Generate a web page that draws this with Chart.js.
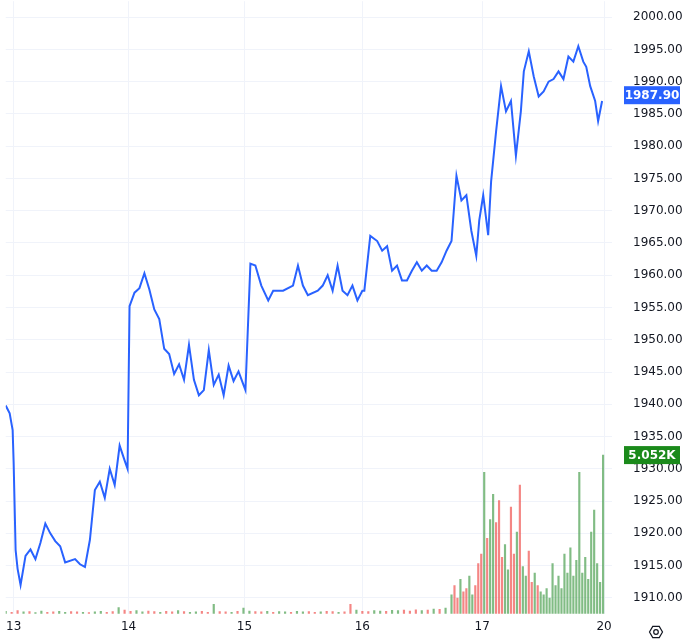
<!DOCTYPE html>
<html>
<head>
<meta charset="utf-8">
<script src="https://cdn.jsdelivr.net/npm/chart.js@4"></script>
<style>
  html, body { margin: 0; padding: 0; background: #fff; overflow: hidden; }
  #wrap { width: 685px; height: 669px; position: absolute; top: -27px; left: 0; }
</style>
</head>
<body>
<div id="wrap"><canvas id="ch"></canvas></div>
<script>
(function () {
  "use strict";

  // bar index (intraday), day labels
  var dayTicks = [8, 124, 241, 360, 481, 604];
  var dayLabels = ["13", "14", "15", "16", "17", "20"];
  var priceTicks = [1910, 1915, 1920, 1925, 1930, 1935, 1940, 1945, 1950, 1955, 1960, 1965, 1970, 1975, 1980, 1985, 1990, 1995, 2000];

  var priceIdx = [0, 4, 7, 8, 10, 12, 15, 20, 25, 30, 35, 40, 45, 50, 55, 60, 70, 75, 80, 85, 90, 95, 100, 105, 110, 115, 120, 123,
    125, 130, 135, 140, 145, 150, 155, 160, 165, 170, 175, 180, 185, 190, 195, 200, 205, 210, 215, 220, 225, 230, 235, 240,
    242, 247, 252, 258, 265, 270, 280, 290, 295, 300, 305, 315, 320, 325, 330, 335, 340, 345, 350, 355, 360,
    362, 368, 375, 380, 385, 390, 395, 400, 405, 410, 415, 420, 425, 430, 435, 440, 445, 450, 455, 460, 465, 470, 475, 478,
    482, 487, 490, 495, 500, 505, 510, 515, 520, 523, 528, 533, 538, 543, 548, 553, 558, 563, 568, 573, 578, 583, 586, 590, 595, 598, 602];
  var price = [1939.8, 1938.6, 1936.0, 1931.0, 1917.4, 1914.5, 1912.0, 1916.5, 1917.5, 1916.0, 1918.5, 1921.5, 1920.0, 1918.8, 1918.0, 1915.5, 1916.0, 1915.2, 1914.8, 1919.0, 1926.7, 1928.0, 1925.5, 1930.0, 1927.5, 1933.6, 1931.3, 1930.0,
    1955.2, 1957.3, 1958.0, 1960.3, 1957.8, 1954.7, 1953.2, 1948.6, 1947.8, 1944.7, 1946.2, 1943.8, 1949.2, 1943.8, 1941.4, 1942.2, 1948.4, 1943.0, 1944.6, 1941.4, 1946.0, 1943.6, 1945.1, 1943.0, 1942.2,
    1961.8, 1961.5, 1958.4, 1956.1, 1957.6, 1957.6, 1958.4, 1961.5, 1958.4, 1956.9, 1957.6, 1958.4, 1960.0, 1957.6, 1961.5, 1957.6, 1956.9, 1958.4, 1956.1, 1957.6, 1957.6,
    1966.1, 1965.3, 1963.8, 1964.5, 1960.7, 1961.5, 1959.2, 1959.2, 1960.7, 1962.0, 1960.7, 1961.5, 1960.7, 1960.7, 1962.0, 1963.8, 1965.3,
    1975.4, 1971.6, 1972.4, 1966.9, 1963.0, 1968.5, 1972.4,
    1966.2, 1974.6, 1982.3, 1989.3, 1985.4, 1987.0, 1978.5, 1985.4, 1991.6, 1994.7, 1990.8, 1987.7, 1988.5, 1990.0, 1990.4, 1991.6, 1990.4, 1993.9, 1993.1, 1995.5, 1993.1, 1992.3, 1989.3, 1987.0, 1983.9, 1987.0, 1987.9];

  var volIdx = [];
  var vol = [0.08, 0.05, 0.1, 0.06, 0.07, 0.04, 0.09, 0.05, 0.06, 0.08, 0.05, 0.07, 0.06, 0.05, 0.04, 0.06, 0.08, 0.05, 0.07, 0.2,
    0.12, 0.08, 0.1, 0.06, 0.09, 0.07, 0.05, 0.08, 0.06, 0.1, 0.07, 0.05, 0.06, 0.08, 0.05, 0.3, 0.07, 0.06, 0.05, 0.08,
    0.18, 0.09, 0.07, 0.06, 0.08, 0.05, 0.07, 0.06, 0.05, 0.08, 0.06, 0.07, 0.05, 0.06, 0.08, 0.07, 0.05, 0.06, 0.3, 0.12,
    0.08, 0.07, 0.1, 0.09, 0.08, 0.11, 0.1, 0.12, 0.09, 0.13, 0.1, 0.12, 0.15, 0.14, 0.18,
    0.6, 0.9, 0.5, 1.1, 0.7, 0.8, 1.2, 0.6, 0.9, 1.6, 1.9, 4.5, 2.4, 3.0, 3.8, 2.9, 3.6, 1.8, 2.2, 1.4, 3.4, 1.9, 2.6, 4.1, 1.5, 1.2,
    2.0, 1.0, 1.3, 0.9, 0.7, 0.6, 0.8, 0.5, 1.6, 0.9, 1.2, 0.8, 1.9, 1.3, 2.1, 1.2, 1.7, 4.5, 1.3, 1.8, 1.1, 2.6, 3.3, 1.6, 1.0, 5.052];
  var volDir = "udduduudduudduduuddudduuddudduduuddudduduudduduuduudd" + "udduddudduuduudddududuuddudduuddduduuddduudduduuddudu";
  for (var i = 0; i < 75; i++) volIdx.push(i * 6);
  for (var j = 0; j < 52; j++) volIdx.push(450 + j * 3);

  var BLUE = "#2962ff";
  var UP = "rgba(76, 160, 80, 0.7)";
  var DOWN = "rgba(239, 83, 80, 0.7)";
  var GRID = "#f0f3fa";
  var TXT = "#131722";

  var lastPrice = price[price.length - 1];
  var lastVol = vol[vol.length - 1];

  var etiquetas = {
    id: "etiquetas",
    afterDraw: function (c) {
      var ctx = c.ctx, yP = c.scales.y, yV = c.scales.yv;
      function caixa(y, txt, cor) {
        ctx.save();
        ctx.fillStyle = cor;
        ctx.fillRect(624, y - 9, 56, 18);
        ctx.fillStyle = "#fff";
        ctx.font = "bold 12px 'DejaVu Sans', sans-serif";
        ctx.textAlign = "center";
        ctx.textBaseline = "middle";
        ctx.fillText(txt, 652, y + 0.5);
        ctx.restore();
      }
      caixa(yP.getPixelForValue(lastPrice), lastPrice.toFixed(2), BLUE);
      caixa(yV.getPixelForValue(lastVol), lastVol.toFixed(3) + "K", "#1b8a1b");
      // settings glyph
      ctx.save();
      ctx.strokeStyle = TXT;
      ctx.lineWidth = 1.2;
      ctx.beginPath();
      var gy = 659;
      for (var k = 0; k < 6; k++) {
        var a = Math.PI / 3 * k;
        var px = 656 + 6.5 * Math.cos(a), py = gy + 6.5 * Math.sin(a);
        if (k === 0) ctx.moveTo(px, py); else ctx.lineTo(px, py);
      }
      ctx.closePath();
      ctx.stroke();
      ctx.beginPath();
      ctx.arc(656, gy, 2.3, 0, Math.PI * 2);
      ctx.stroke();
      ctx.restore();
    },
  };

  new Chart(document.getElementById("ch"), {
    data: {
      datasets: [
        {
          type: "line", yAxisID: "y",
          data: priceIdx.map(function (x, k) { return { x: x, y: price[k] }; }),
          borderColor: BLUE, borderWidth: 2, pointRadius: 0, tension: 0, order: 0,
        },
        {
          type: "bar", yAxisID: "yv",
          data: volIdx.map(function (x, k) { return { x: x, y: vol[k] }; }),
          backgroundColor: volIdx.map(function (x, k) { return volDir[k] === "d" ? DOWN : UP; }),
          barThickness: 1.5, order: 1,
        },
      ],
    },
    options: {
      responsive: true, maintainAspectRatio: false, animation: false,
      plugins: { legend: { display: false }, tooltip: { enabled: false } },
      scales: {
        x: {
          type: "linear", min: 0, max: 612, offset: false,
          afterBuildTicks: function (s) { s.ticks = dayTicks.map(function (v) { return { value: v }; }); },
          ticks: {
            color: TXT, font: { size: 12, family: "'DejaVu Sans', sans-serif" }, padding: 6, autoSkip: false, maxRotation: 0,
            callback: function (v) { var k = dayTicks.indexOf(v); return k >= 0 ? dayLabels[k] : ""; },
          },
          grid: { color: GRID, drawTicks: false, offset: false },
          border: { display: false },
          afterFit: function (s) { s.height = 28; },
        },
        y: {
          position: "right", min: 1907.53, max: 2002.47,
          afterBuildTicks: function (s) { s.ticks = priceTicks.map(function (v) { return { value: v }; }); },
          ticks: {
            color: TXT, font: { size: 12, family: "'DejaVu Sans', sans-serif" }, padding: 21,
            callback: function (v) { return v.toFixed(2); },
          },
          grid: { color: GRID, drawTicks: false },
          border: { display: false },
          afterFit: function (s) { s.width = 73; },
        },
        yv: { display: false, min: 0, max: 19.5 },
      },
    },
    plugins: [etiquetas],
  });
})();
</script>
</body>
</html>
